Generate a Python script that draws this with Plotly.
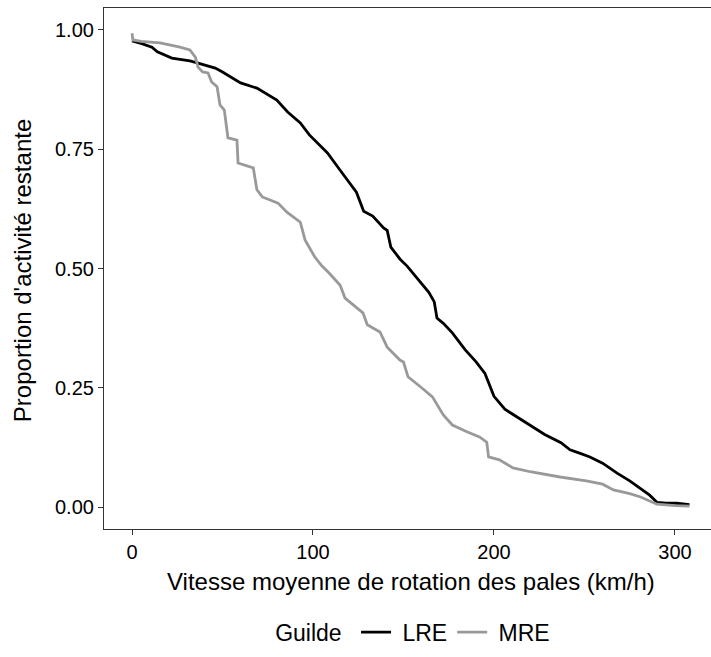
import plotly.graph_objects as go

# LRE guild (black curve): speed (km/h) vs remaining proportion of activity
lre_speed = [0, 5, 11, 14, 22, 32, 36, 46, 50, 60, 69, 75, 80, 86, 93, 98, 103, 108,
             115, 120, 124, 128, 133, 139, 141, 143, 148, 152, 158, 164, 167, 168.5,
             172, 177, 184, 190, 195, 198, 200, 206, 213, 220, 228, 237, 242, 248,
             253, 260, 268, 275, 282, 286, 290, 295, 301, 308]
lre_prop = [0.977, 0.972, 0.964, 0.954, 0.941, 0.935, 0.931, 0.920, 0.912, 0.889,
            0.878, 0.864, 0.853, 0.828, 0.805, 0.780, 0.760, 0.742, 0.706, 0.680,
            0.660, 0.620, 0.610, 0.585, 0.580, 0.545, 0.520, 0.505, 0.478, 0.450,
            0.430, 0.396, 0.385, 0.365, 0.330, 0.305, 0.280, 0.250, 0.232, 0.205,
            0.188, 0.170, 0.152, 0.135, 0.120, 0.112, 0.105, 0.092, 0.071, 0.055,
            0.035, 0.025, 0.010, 0.008, 0.008, 0.005]

# MRE guild (grey curve)
mre_speed = [0, 0.5, 5, 10, 15.5, 26.5, 32, 35, 36.5, 39, 42, 44, 47, 48.6, 51, 53,
             58, 58.6, 67, 69, 72, 80.7, 85.6, 93, 95.6, 101, 105, 109, 115, 117.7,
             127.6, 130, 137, 141, 148, 150, 152.5, 160, 166, 172, 177, 185, 192,
             196, 197, 203, 210.5, 220, 236.5, 251, 260, 266, 275, 281, 290, 300, 308]
mre_prop = [0.993, 0.979, 0.976, 0.975, 0.973, 0.964, 0.958, 0.943, 0.922, 0.912,
            0.910, 0.891, 0.881, 0.843, 0.832, 0.774, 0.769, 0.721, 0.711, 0.665,
            0.650, 0.637, 0.618, 0.597, 0.560, 0.524, 0.505, 0.490, 0.465, 0.438,
            0.407, 0.382, 0.367, 0.335, 0.308, 0.304, 0.273, 0.250, 0.231, 0.193,
            0.172, 0.158, 0.147, 0.136, 0.105, 0.099, 0.082, 0.074, 0.063, 0.055,
            0.048, 0.036, 0.028, 0.021, 0.006, 0.003, 0.002]

x_ticks = [0, 100, 200, 300]
y_ticks = [0, 0.25, 0.5, 0.75, 1.0]
y_tick_labels = ['0.00', '0.25', '0.50', '0.75', '1.00']

FONT = 'Liberation Sans, Arial, sans-serif'

fig = go.Figure()
fig.add_trace(go.Scatter(x=lre_speed, y=lre_prop, mode='lines', name=' LRE',
                         line=dict(color='black', width=2.8)))
fig.add_trace(go.Scatter(x=mre_speed, y=mre_prop, mode='lines', name=' MRE',
                         line=dict(color='#999999', width=2.8)))

fig.update_layout(
    width=711, height=657,
    margin=dict(l=104, r=0, t=8, b=128),
    plot_bgcolor='white', paper_bgcolor='white',
    font=dict(family=FONT, color='black'),
    legend=dict(
        orientation='h', x=0.511, xanchor='center', y=-0.198, yanchor='middle',
        title=dict(text='Guilde ', side='left', font=dict(size=23)),
        font=dict(size=23), itemwidth=30,
    ),
    xaxis=dict(
        range=[-15.47, 319.9], tickvals=x_ticks, showgrid=False, zeroline=False,
        showline=True, linecolor='#333333', linewidth=1.2, mirror=True,
        ticks='outside', ticklen=5, tickcolor='#333333', tickwidth=1.2,
        tickfont=dict(size=20, color='black'),
    ),
    yaxis=dict(
        range=[-0.046, 1.046], tickvals=y_ticks, ticktext=y_tick_labels,
        showgrid=False, zeroline=False, showline=True, linecolor='#333333',
        linewidth=1.2, ticks='outside', ticklen=5, tickcolor='#333333',
        tickwidth=1.2, tickfont=dict(size=20, color='black'),
    ),
    annotations=[
        dict(text='Vitesse moyenne de rotation des pales (km/h)', xref='paper',
             yref='paper', x=0.5058, y=-0.1017, showarrow=False,
             xanchor='center', yanchor='middle', font=dict(size=24)),
        dict(text="Proportion d'activité restante", xref='paper', yref='paper',
             x=-0.135, y=0.495, showarrow=False, textangle=-90,
             xanchor='center', yanchor='middle', font=dict(size=24)),
    ],
)

# drop the default page margin so the figure sits at the window's corner
fig.write_html("out.html", config={'displayModeBar': False},
               post_script="document.body.style.margin='0';")
